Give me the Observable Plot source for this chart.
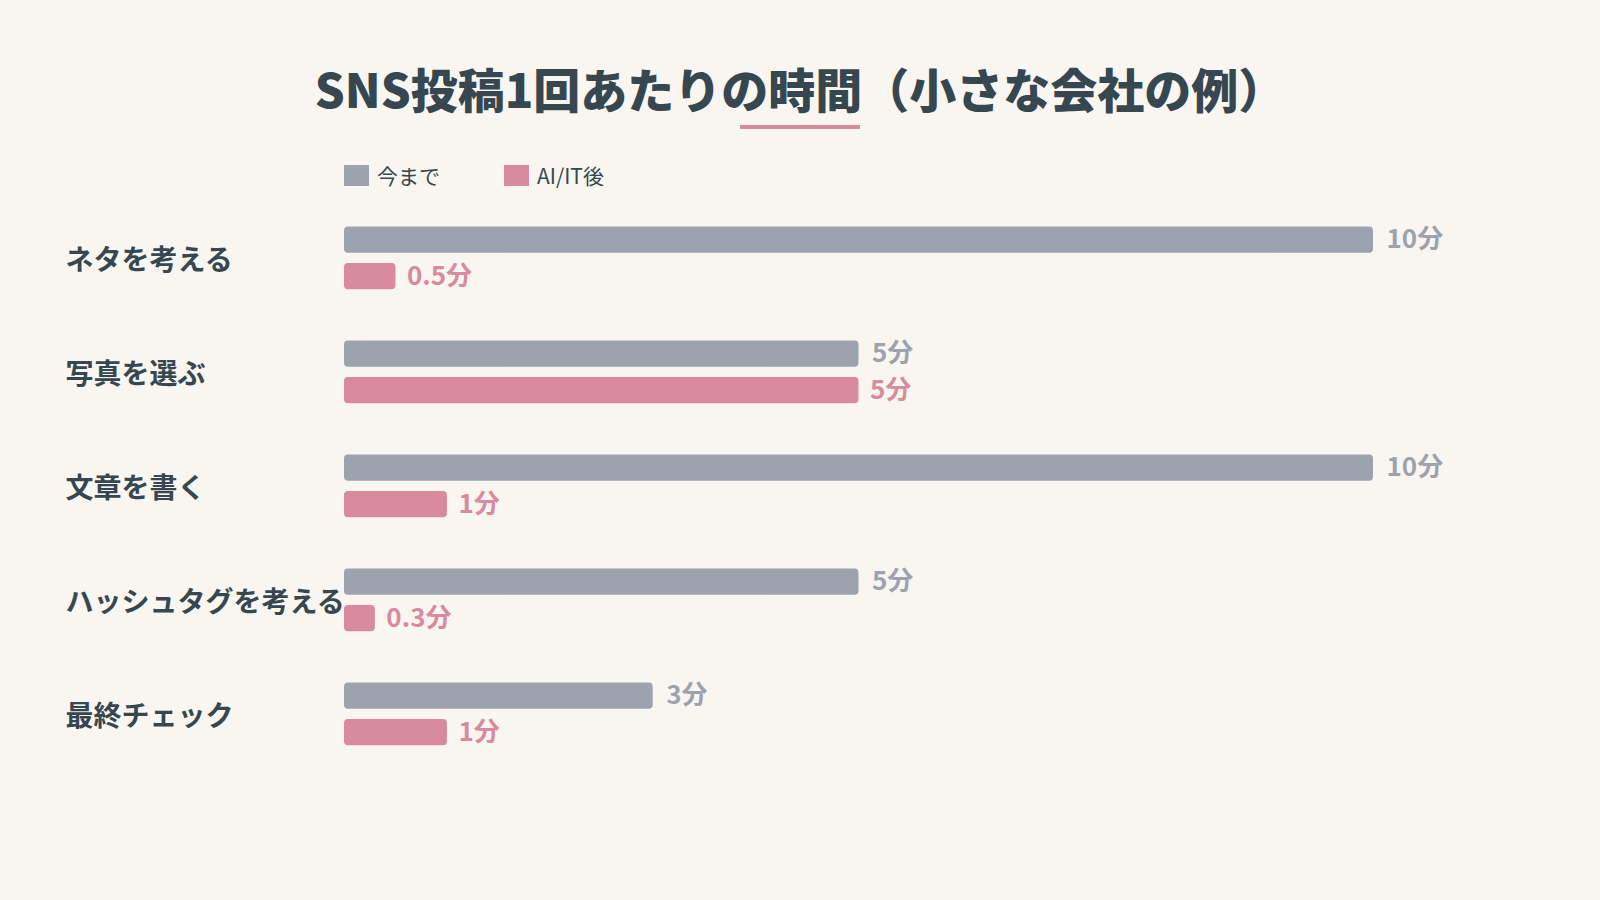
<!DOCTYPE html>
<html>
<head>
<meta charset="utf-8">
<script src="https://cdn.jsdelivr.net/npm/d3@7"></script>
<script src="https://cdn.jsdelivr.net/npm/@observablehq/plot@0.6"></script>
<style>
  html, body { margin: 0; padding: 0; background: #f9f6f1; }
  #page { position: relative; width: 1600px; height: 900px; background: #f9f6f1; overflow: hidden;
          font-family: "Noto Sans CJK JP", "Noto Sans", sans-serif; color: #37474f; }
  #title { position: absolute; left: 0; width: 1600px; top: 56px; text-align: center;
           font-size: 47px; font-weight: 900; line-height: 64px; color: #37474f; }
  #rule { position: absolute; left: 740px; top: 125px; width: 120px; height: 4px; background: #d98a9e; }
  #legend { position: absolute; left: 344px; top: 162px; display: flex; gap: 0; font-size: 21px; line-height: 27px; }
  .item { display: flex; align-items: center; margin-right: 64px; }
  .sw { width: 25px; height: 21px; margin-right: 8px; }
  #chart { position: absolute; left: 0; top: 200px; }
</style>
</head>
<body>
<div id="page">
  <div id="title"></div>
  <div id="rule"></div>
  <div id="legend"></div>
  <div id="chart"></div>
</div>
<script>
const titleText = "SNS投稿1回あたりの時間（小さな会社の例）";
const categories = ["ネタを考える", "写真を選ぶ", "文章を書く", "ハッシュタグを考える", "最終チェック"];
const seriesNames = ["今まで", "AI/IT後"];
const beforeMinutes = [10, 5, 10, 5, 3];
const afterMinutes = [0.5, 5, 1, 0.3, 1];
const unit = "分";
const colors = ["#9ca3ae", "#d98a9e"];

document.getElementById("title").textContent = titleText;
const legend = document.getElementById("legend");
seriesNames.forEach((s, i) => {
  const it = document.createElement("div");
  it.className = "item";
  const sw = document.createElement("div");
  sw.className = "sw";
  sw.style.background = colors[i];
  const tx = document.createElement("span");
  tx.textContent = s;
  it.appendChild(sw); it.appendChild(tx);
  legend.appendChild(it);
});

const beforeData = categories.map((c, i) => ({category: c, value: beforeMinutes[i]}));
const afterData = categories.map((c, i) => ({category: c, value: afterMinutes[i]}));

const chart = Plot.plot({
  width: 1600,
  height: 700,
  marginLeft: 344,
  marginRight: 227,
  marginTop: 0,
  marginBottom: 128.5,
  style: {background: "transparent", fontFamily: "\"Noto Sans CJK JP\", sans-serif"},
  x: {domain: [0, 10], axis: null},
  y: {domain: categories, padding: 0, label: null},
  marks: [
    Plot.barX(beforeData, {x: "value", y: "category", fill: colors[0], insetTop: 25.5, insetBottom: 62.3, rx: 4}),
    Plot.barX(afterData, {x: "value", y: "category", fill: colors[1], insetTop: 62, insetBottom: 25.8, rx: 4}),
    Plot.text(beforeData, {x: "value", y: "category", text: d => d.value + unit, dx: 13, dy: -18.5,
      textAnchor: "start", fill: colors[0], fontSize: 26, fontWeight: 700}),
    Plot.text(afterData, {x: "value", y: "category", text: d => d.value + unit, dx: 11, dy: 18.5,
      textAnchor: "start", fill: colors[1], fontSize: 26, fontWeight: 700}),
    Plot.axisY({tickSize: 0, tickPadding: 0, textAnchor: "start", dx: -279, dy: 3, fontSize: 28,
      fontWeight: 700, fill: "#37474f", label: null})
  ]
});
document.getElementById("chart").appendChild(chart);
</script>
</body>
</html>
